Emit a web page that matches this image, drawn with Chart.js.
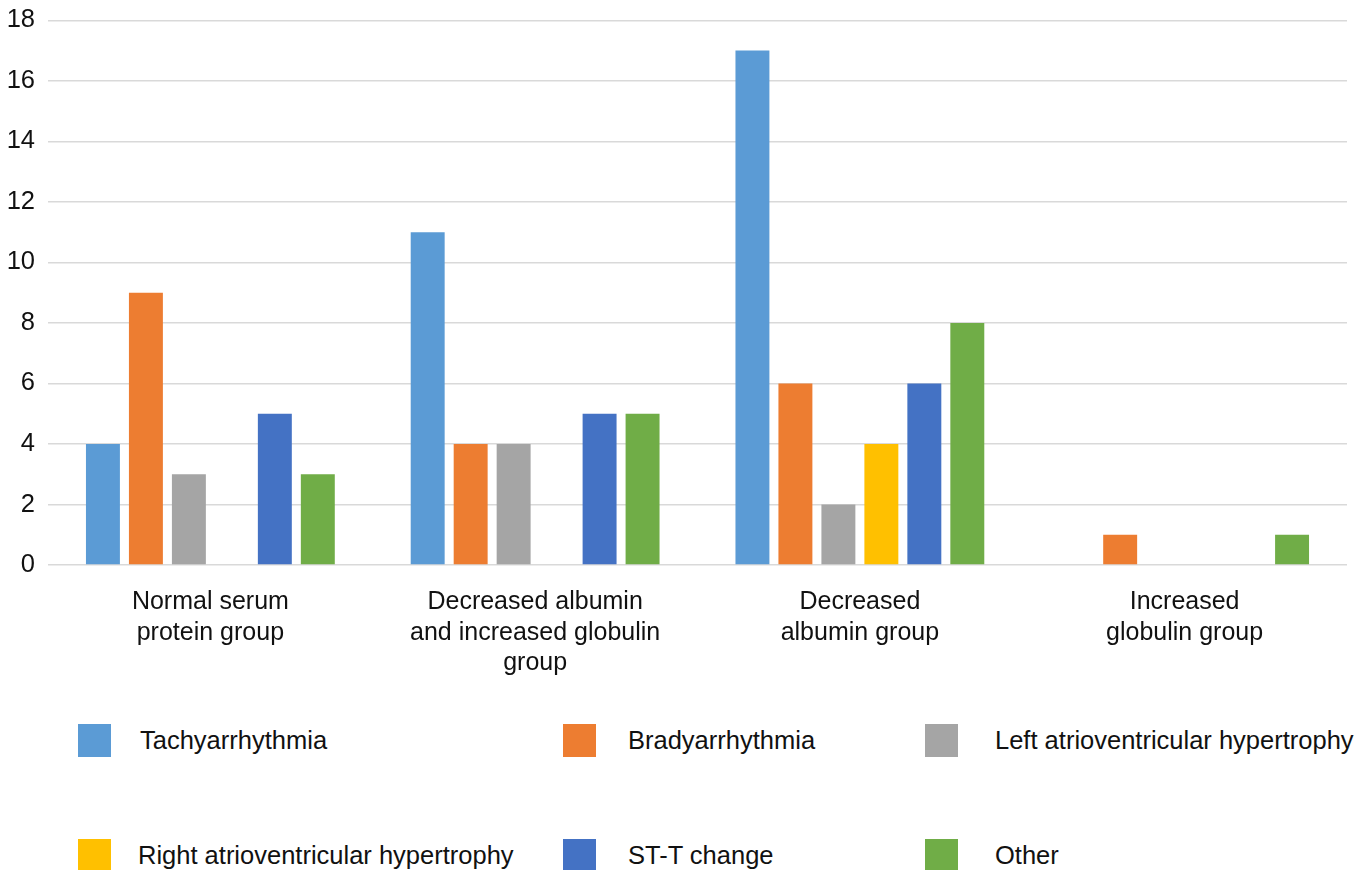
<!DOCTYPE html>
<html>
<head>
<meta charset="utf-8">
<script src="https://cdn.jsdelivr.net/npm/chart.js@4.4.0/dist/chart.umd.min.js"></script>
<style>
    body { margin: 0; background: #fff; width: 1370px; height: 870px; overflow: hidden; position: relative; font-family: "Liberation Sans", Arial, sans-serif; }
    #wrap { position: absolute; left: 0; top: -8px; width: 1370px; height: 698px; }
    .box { position: absolute; width: 33px; height: 33px; }
    .lab { position: absolute; font-size: 25.5px; line-height: 34px; color: #111; white-space: nowrap; }
</style>
</head>
<body>
<div id="wrap"><canvas id="c"></canvas></div>
<div id="legend"></div>
<script>
const categories = [
    ['Normal serum', 'protein group'],
    ['Decreased albumin', 'and increased globulin', 'group'],
    ['Decreased', 'albumin group'],
    ['Increased', 'globulin group']
];
const seriesNames = ['Tachyarrhythmia', 'Bradyarrhythmia', 'Left atrioventricular hypertrophy',
    'Right atrioventricular hypertrophy', 'ST-T change', 'Other'];
const tachy = [4, 11, 17, 0];
const brady = [9, 4, 6, 1];
const leftHyp = [3, 4, 2, 0];
const rightHyp = [0, 0, 4, 0];
const stt = [5, 5, 6, 0];
const other = [3, 5, 8, 1];
const colors = ['#5B9BD5', '#ED7D31', '#A5A5A5', '#FFC000', '#4472C4', '#70AD47'];

const allValues = [tachy, brady, leftHyp, rightHyp, stt, other];
const font = '"Liberation Sans", Arial, sans-serif';

const ctx = document.getElementById('c').getContext('2d');
new Chart(ctx, {
    type: 'bar',
    data: {
        labels: categories,
        datasets: allValues.map(function (vals, i) {
            return {
                label: seriesNames[i],
                data: vals,
                backgroundColor: colors[i],
                borderWidth: 0,
                categoryPercentage: 0.794,
                barPercentage: 0.79
            };
        })
    },
    options: {
        responsive: true,
        maintainAspectRatio: false,
        animation: false,
        layout: { padding: { top: 0, right: 23, left: 0, bottom: 0 } },
        plugins: { legend: { display: false }, tooltip: { enabled: false } },
        scales: {
            x: {
                grid: { display: false },
                border: { display: false },
                ticks: {
                    color: '#111',
                    font: { family: font, size: 25, lineHeight: 1.22 },
                    padding: 14,
                    maxRotation: 0,
                    autoSkip: false
                },
                afterFit: function (s) { s.height = 125; }
            },
            y: {
                min: 0,
                max: 18,
                ticks: {
                    stepSize: 2,
                    color: '#111',
                    font: { family: font, size: 25.5 },
                    padding: 13
                },
                grid: { color: '#D9D9D9', lineWidth: 1.5, drawTicks: false },
                border: { display: false },
                afterFit: function (s) { s.width = 48; }
            }
        }
    }
});

// legend in 3 columns, two rows
const boxX = [78, 563, 925, 78, 563, 925];
const textX = [140, 628, 995, 138, 628, 995];
const rowY = [740, 740, 740, 855, 855, 855];
const legend = document.getElementById('legend');
seriesNames.forEach(function (name, i) {
    const b = document.createElement('div');
    b.className = 'box';
    b.style.left = boxX[i] + 'px';
    b.style.top = (rowY[i] - 16) + 'px';
    b.style.background = colors[i];
    legend.appendChild(b);
    const t = document.createElement('div');
    t.className = 'lab';
    t.style.left = textX[i] + 'px';
    t.style.top = (rowY[i] - 17) + 'px';
    t.textContent = name;
    legend.appendChild(t);
});
</script>
</body>
</html>
